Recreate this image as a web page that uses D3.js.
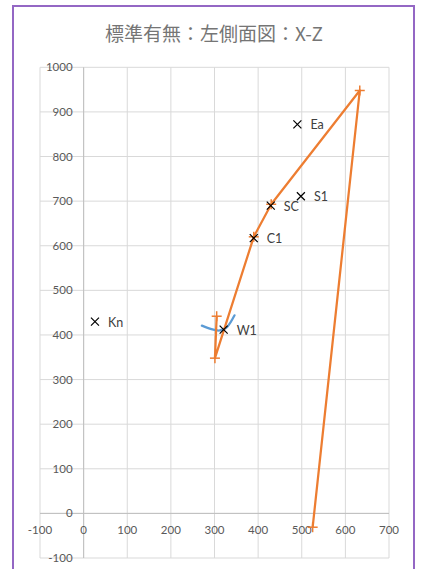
<!DOCTYPE html>
<html>
<head>
<meta charset="utf-8">
<script src="https://cdn.jsdelivr.net/npm/d3@7"></script>
<style>
  body { margin: 0; background: #fff; }
  #chart { width: 426px; height: 569px; }
</style>
</head>
<body>
<div id="chart"></div>
<script>
// -- data --
var title = "標準有無：左側面図：X-Z";
var x_ticks = [-100, 0, 100, 200, 300, 400, 500, 600, 700];
var y_ticks = [-100, 0, 100, 200, 300, 400, 500, 600, 700, 800, 900, 1000];

// labelled reference points (black x)
var point_names = ["Kn", "W1", "C1", "SC", "S1", "Ea"];
var point_x = [26, 321, 390, 429, 498, 490];
var point_z = [430, 412, 617, 690, 711, 872];

// orange polyline with + markers
var line_x = [305, 301, 390, 430, 633, 525];
var line_z = [442, 348, 620, 693, 948, -31];

// blue curve near W1
var arc_x = [271, 293, 312, 330, 346];
var arc_z = [421, 413, 410, 419, 444];

var visualize = function() {
  var svg = d3.select("#chart")
    .append("svg")
    .attr("width", 426)
    .attr("height", 569);

  // chart frame
  svg.append("rect")
    .attr("x", 13).attr("y", 6)
    .attr("width", 401).attr("height", 600)
    .attr("fill", "#fff")
    .attr("stroke", "#9467c4")
    .attr("stroke-width", 2);

  svg.append("text")
    .text(title)
    .attr("x", 214).attr("y", 41)
    .attr("text-anchor", "middle")
    .attr("fill", "#757575")
    .style("font-family", "'Noto Sans CJK JP', sans-serif")
    .style("font-size", "19px");

  // == scales ==
  var x = d3.scaleLinear().domain([-100, 700]).range([40, 389]);
  var y = d3.scaleLinear().domain([-100, 1000]).range([558, 67.3]);

  // -- grid lines --
  svg.append("g").selectAll("line").data(x_ticks).enter().append("line")
    .attr("x1", function (d) { return x(d); })
    .attr("x2", function (d) { return x(d); })
    .attr("y1", y(1000)).attr("y2", y(-100))
    .attr("stroke", "#d9d9d9").attr("stroke-width", 1);

  svg.append("g").selectAll("line").data(y_ticks).enter().append("line")
    .attr("x1", x(-100)).attr("x2", x(700))
    .attr("y1", function (d) { return y(d); })
    .attr("y2", function (d) { return y(d); })
    .attr("stroke", "#d9d9d9").attr("stroke-width", 1);

  // axis lines at zero
  svg.append("line")
    .attr("x1", x(-100)).attr("x2", x(700))
    .attr("y1", y(0)).attr("y2", y(0))
    .attr("stroke", "#bfbfbf");
  svg.append("line")
    .attr("x1", x(0)).attr("x2", x(0))
    .attr("y1", y(1000)).attr("y2", y(-100))
    .attr("stroke", "#bfbfbf");

  // -- tick labels --
  svg.append("g").selectAll("text").data(x_ticks).enter().append("text")
    .text(function (d) { return d; })
    .attr("x", function (d) { return x(d); })
    .attr("y", y(0) + 21)
    .attr("text-anchor", "middle")
    .attr("fill", "#595959")
    .style("font-family", "Lato, 'Open Sans', sans-serif")
    .style("font-size", "11.5px");

  svg.append("g").selectAll("text").data(y_ticks).enter().append("text")
    .text(function (d) { return d; })
    .attr("x", x(0) - 11)
    .attr("y", function (d) { return y(d) + 4; })
    .attr("text-anchor", "end")
    .attr("fill", "#595959")
    .style("font-family", "Lato, 'Open Sans', sans-serif")
    .style("font-size", "11.5px");

  // == blue curve ==
  var arc_pts = arc_x.map(function (v, i) { return [v, arc_z[i]]; });
  svg.append("path")
    .datum(arc_pts)
    .attr("d", d3.line()
      .x(function (d) { return x(d[0]); })
      .y(function (d) { return y(d[1]); })
      .curve(d3.curveNatural))
    .attr("fill", "none")
    .attr("stroke", "#5b9bd5")
    .attr("stroke-width", 2.25)
    .attr("stroke-linecap", "round");

  // == orange line ==
  var line_pts = line_x.map(function (v, i) { return [v, line_z[i]]; });
  svg.append("path")
    .datum(line_pts)
    .attr("d", d3.line()
      .x(function (d) { return x(d[0]); })
      .y(function (d) { return y(d[1]); }))
    .attr("fill", "none")
    .attr("stroke", "#ed7d31")
    .attr("stroke-width", 2.25)
    .attr("stroke-linejoin", "round");

  var plus = svg.append("g").selectAll("g").data(line_pts).enter().append("g")
    .attr("transform", function (d) {
      return "translate(" + x(d[0]) + "," + y(d[1]) + ")";
    });
  plus.append("line").attr("x1", -5).attr("x2", 5).attr("y1", 0).attr("y2", 0)
    .attr("stroke", "#ed7d31").attr("stroke-width", 1.5);
  plus.append("line").attr("x1", 0).attr("x2", 0).attr("y1", -5).attr("y2", 5)
    .attr("stroke", "#ed7d31").attr("stroke-width", 1.5);

  // == black x markers + labels ==
  var pts = point_names.map(function (n, i) {
    return { name: n, x: point_x[i], z: point_z[i] };
  });
  var pt = svg.append("g").selectAll("g").data(pts).enter().append("g")
    .attr("transform", function (d) {
      return "translate(" + x(d.x) + "," + y(d.z) + ")";
    });
  pt.append("path")
    .attr("d", "M-4,-4L4,4M-4,4L4,-4")
    .attr("stroke", "#000")
    .attr("stroke-width", 1.2);
  pt.append("text")
    .text(function (d) { return d.name; })
    .attr("x", 13)
    .attr("y", 5)
    .attr("fill", "#404040")
    .style("font-family", "Lato, 'Open Sans', sans-serif")
    .style("font-size", "12.5px");
};

visualize();
</script>
</body>
</html>
